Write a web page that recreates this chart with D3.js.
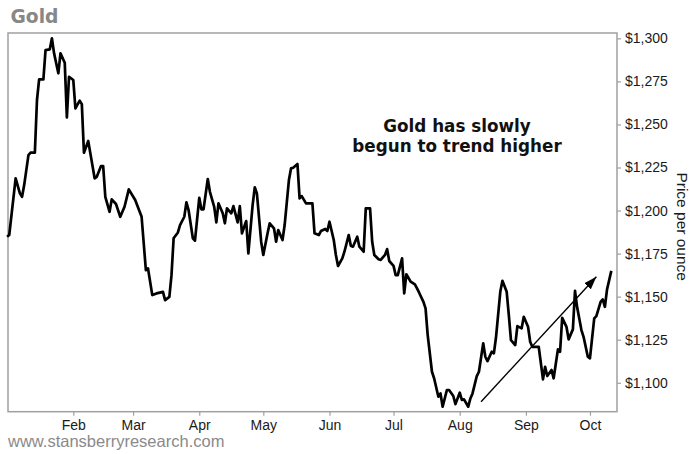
<!DOCTYPE html>
<html><head><meta charset="utf-8">
<script src="https://cdn.jsdelivr.net/npm/d3@7"></script>
<style>
html,body{margin:0;padding:0;background:#fff;}
svg{display:block;}
</style></head>
<body>
<svg id="chart" width="690" height="454"></svg>
<script>
const dates = [
"2015-01-01","2015-01-02","2015-01-05","2015-01-07","2015-01-08","2015-01-09","2015-01-11","2015-01-12","2015-01-14","2015-01-15","2015-01-16","2015-01-18","2015-01-19","2015-01-21","2015-01-22","2015-01-23","2015-01-25","2015-01-26","2015-01-28","2015-01-29","2015-01-30",
"2015-02-01","2015-02-02","2015-02-04","2015-02-05","2015-02-06","2015-02-08","2015-02-09","2015-02-11","2015-02-12","2015-02-14","2015-02-15","2015-02-16","2015-02-18","2015-02-19","2015-02-21","2015-02-23","2015-02-25","2015-02-27",
"2015-03-02","2015-03-05","2015-03-07","2015-03-08","2015-03-10","2015-03-12","2015-03-15","2015-03-16","2015-03-18","2015-03-19","2015-03-20","2015-03-22","2015-03-23","2015-03-25","2015-03-26","2015-03-27","2015-03-29","2015-03-30",
"2015-04-01","2015-04-02","2015-04-03","2015-04-05","2015-04-06","2015-04-08","2015-04-09","2015-04-10","2015-04-12","2015-04-13","2015-04-14","2015-04-16","2015-04-17","2015-04-19","2015-04-20","2015-04-21","2015-04-23","2015-04-24","2015-04-26","2015-04-27","2015-04-28","2015-04-30",
"2015-05-01","2015-05-03","2015-05-04","2015-05-06","2015-05-07","2015-05-08","2015-05-10","2015-05-11","2015-05-13","2015-05-14","2015-05-15","2015-05-17","2015-05-18","2015-05-19","2015-05-21","2015-05-24","2015-05-25","2015-05-27","2015-05-28","2015-05-30","2015-05-31",
"2015-06-01","2015-06-03","2015-06-04","2015-06-05","2015-06-07","2015-06-08","2015-06-10","2015-06-11","2015-06-12","2015-06-14","2015-06-15","2015-06-17","2015-06-18","2015-06-20","2015-06-21","2015-06-22","2015-06-24","2015-06-25","2015-06-27","2015-06-28","2015-06-29",
"2015-07-01","2015-07-02","2015-07-03","2015-07-05","2015-07-06","2015-07-07","2015-07-09","2015-07-11","2015-07-12","2015-07-13","2015-07-15","2015-07-16","2015-07-17","2015-07-19","2015-07-20","2015-07-22","2015-07-23","2015-07-24","2015-07-26","2015-07-27","2015-07-29","2015-07-30",
"2015-08-01","2015-08-02","2015-08-03","2015-08-05","2015-08-06","2015-08-07","2015-08-09","2015-08-10","2015-08-12","2015-08-13","2015-08-14","2015-08-16","2015-08-17","2015-08-18","2015-08-20","2015-08-21","2015-08-23","2015-08-24","2015-08-25","2015-08-27","2015-08-28","2015-08-30","2015-08-31",
"2015-09-02","2015-09-03","2015-09-04","2015-09-06","2015-09-07","2015-09-09","2015-09-10","2015-09-11","2015-09-13","2015-09-14","2015-09-16","2015-09-17","2015-09-18","2015-09-20","2015-09-21","2015-09-23","2015-09-24","2015-09-25","2015-09-27","2015-09-28","2015-09-30",
"2015-10-01","2015-10-03","2015-10-04","2015-10-06","2015-10-07","2015-10-08","2015-10-09","2015-10-11"
];
const prices = [
1184.8,1185.8,1218.7,1210.0,1208.0,1214.8,1232.2,1233.6,1233.6,1264.2,1276.2,1276.2,1293.2,1293.6,1300.0,1291.3,1279.7,1291.3,1285.8,1254.1,1277.7,
1275.8,1259.3,1263.8,1261.8,1233.6,1240.4,1233.2,1218.7,1219.6,1225.8,1225.8,1208.0,1199.3,1206.5,1203.8,1196.4,1202.2,1212.3,
1206.1,1196.4,1165.4,1166.4,1150.9,1151.9,1152.8,1148.0,1149.9,1162.5,1183.9,1187.3,1191.6,1196.4,1204.8,1200.3,1183.9,1182.5,
1207.4,1200.7,1200.7,1218.3,1210.9,1202.2,1193.1,1204.2,1198.4,1192.6,1201.3,1198.4,1202.6,1193.1,1202.6,1186.8,1193.9,1175.1,1203.2,1213.5,1210.0,1181.9,
1174.2,1186.8,1192.6,1189.7,1181.9,1188.7,1182.9,1191.6,1217.7,1224.5,1224.9,1227.0,1207.1,1208.4,1204.2,1204.2,1186.8,1185.8,1188.1,1189.3,1188.1,
1193.5,1182.9,1174.2,1167.8,1172.2,1176.1,1185.8,1179.6,1179.0,1184.8,1179.0,1176.1,1201.3,1201.3,1181.9,1174.2,1171.7,1171.3,1174.2,1177.6,1170.7,
1167.9,1162.5,1162.5,1172.2,1151.9,1163.0,1158.7,1157.1,1154.8,1152.3,1147.0,1143.2,1127.7,1106.4,1102.6,1091.9,1093.8,1086.1,1095.8,1095.8,1092.3,1087.6,
1094.2,1090.0,1090.4,1086.1,1090.9,1093.8,1103.9,1106.4,1122.9,1115.1,1112.6,1118.0,1117.1,1126.4,1152.8,1159.2,1152.8,1139.3,1124.8,1121.9,1132.9,1131.6,1138.3,
1132.5,1123.8,1120.9,1120.9,1120.9,1102.0,1109.3,1103.9,1107.4,1102.6,1119.4,1118.0,1137.7,1132.5,1125.2,1131.0,1153.4,1143.8,1130.6,1126.7,1115.1,
1114.2,1137.4,1138.7,1147.0,1148.4,1144.1,1154.2,1165.0
];
const yTicks = [1100, 1125, 1150, 1175, 1200, 1225, 1250, 1275, 1300];
const xTickDates = ["2015-02-01","2015-03-01","2015-04-01","2015-05-01","2015-06-01","2015-07-01","2015-08-01","2015-09-01","2015-10-01"];
const xTickLabels = ["Feb","Mar","Apr","May","Jun","Jul","Aug","Sep","Oct"];
const arrowFrom = {date: "2015-08-11", value: 1089};
const arrowTo = {date: "2015-10-04", value: 1161.6};
const titleText = "Gold";
const noteLines = ["Gold has slowly", "begun to trend higher"];
const axisTitle = "Price per ounce";
const sourceText = "www.stansberryresearch.com";

const parse = d3.utcParse("%Y-%m-%d");
const data = dates.map((d, i) => ({date: parse(d), value: prices[i]}));

const L = 8, R = 617, T = 33, B = 411.7;
const svg = d3.select("#chart");

const x = d3.scaleUtc()
  .domain([parse("2015-01-01"), d3.utcHour.offset(parse("2015-10-13"), 16)])
  .range([7.1, R]);
const y = d3.scaleLinear().domain([1083.2, 1303.1]).range([B, T]);

const sans = "'Liberation Sans', Arial, Helvetica, sans-serif";
const bold = "'DejaVu Sans', Verdana, sans-serif";

// title
svg.append("text").attr("x", 10.5).attr("y", 23.3)
  .attr("font-family", bold).attr("font-weight", "bold").attr("font-size", 18.7)
  .attr("fill", "#878787").text(titleText);

// frame
svg.append("rect").attr("x", L).attr("y", T).attr("width", R - L).attr("height", B - T)
  .attr("fill", "none").attr("stroke", "#a0a0a0").attr("stroke-width", 1.5);

// y axis (right)
const yAxis = d3.axisRight(y).tickValues(yTicks).tickSize(4).tickPadding(4)
  .tickFormat(d3.format("$,"));
const gy = svg.append("g").attr("transform", `translate(${R},0)`).call(yAxis);
gy.select(".domain").remove();
gy.selectAll(".tick line").attr("stroke", "#a0a0a0").attr("stroke-width", 1.2);
gy.selectAll(".tick text").attr("font-family", sans).attr("font-size", 14).attr("fill", "#1a1a1a");

// x axis
const xAxis = d3.axisBottom(x).tickValues(xTickDates.map(parse)).tickSize(4).tickPadding(4)
  .tickFormat((d, i) => xTickLabels[i]);
const gx = svg.append("g").attr("transform", `translate(0,${B})`).call(xAxis);
gx.select(".domain").remove();
gx.selectAll(".tick line").attr("stroke", "#a0a0a0").attr("stroke-width", 1.2);
gx.selectAll(".tick text").attr("font-family", sans).attr("font-size", 14).attr("fill", "#1a1a1a");

// axis title
svg.append("text").attr("transform", "translate(677,226.7) rotate(90)")
  .attr("text-anchor", "middle").attr("font-family", sans).attr("font-size", 15.5)
  .attr("fill", "#1a1a1a").text(axisTitle);

// line
const line = d3.line().x(d => x(d.date)).y(d => y(d.value));
svg.append("path").datum(data).attr("d", line)
  .attr("fill", "none").attr("stroke", "#000").attr("stroke-width", 2.7)
  .attr("stroke-linejoin", "round");

// arrow
const defs = svg.append("defs");
defs.append("marker").attr("id", "arrowhead").attr("markerUnits", "userSpaceOnUse")
  .attr("markerWidth", 14).attr("markerHeight", 10).attr("refX", 13).attr("refY", 5)
  .attr("orient", "auto")
  .append("path").attr("d", "M0,0.5 L13,5 L0,9.5 Z").attr("fill", "#000");
svg.append("line")
  .attr("x1", x(parse(arrowFrom.date))).attr("y1", y(arrowFrom.value))
  .attr("x2", x(parse(arrowTo.date))).attr("y2", y(arrowTo.value))
  .attr("stroke", "#000").attr("stroke-width", 1.4).attr("marker-end", "url(#arrowhead)");

// annotation
const note = svg.append("text").attr("text-anchor", "middle")
  .attr("font-family", bold).attr("font-weight", "bold").attr("font-size", 16.8).attr("fill", "#111");
noteLines.forEach((t, i) => note.append("tspan").attr("x", 457).attr("y", 131.7 + i * 20).text(t));

// source
svg.append("text").attr("x", 8).attr("y", 447)
  .attr("font-family", sans).attr("font-size", 16.5).attr("fill", "#8a8a8a").text(sourceText);
</script>
</body></html>
